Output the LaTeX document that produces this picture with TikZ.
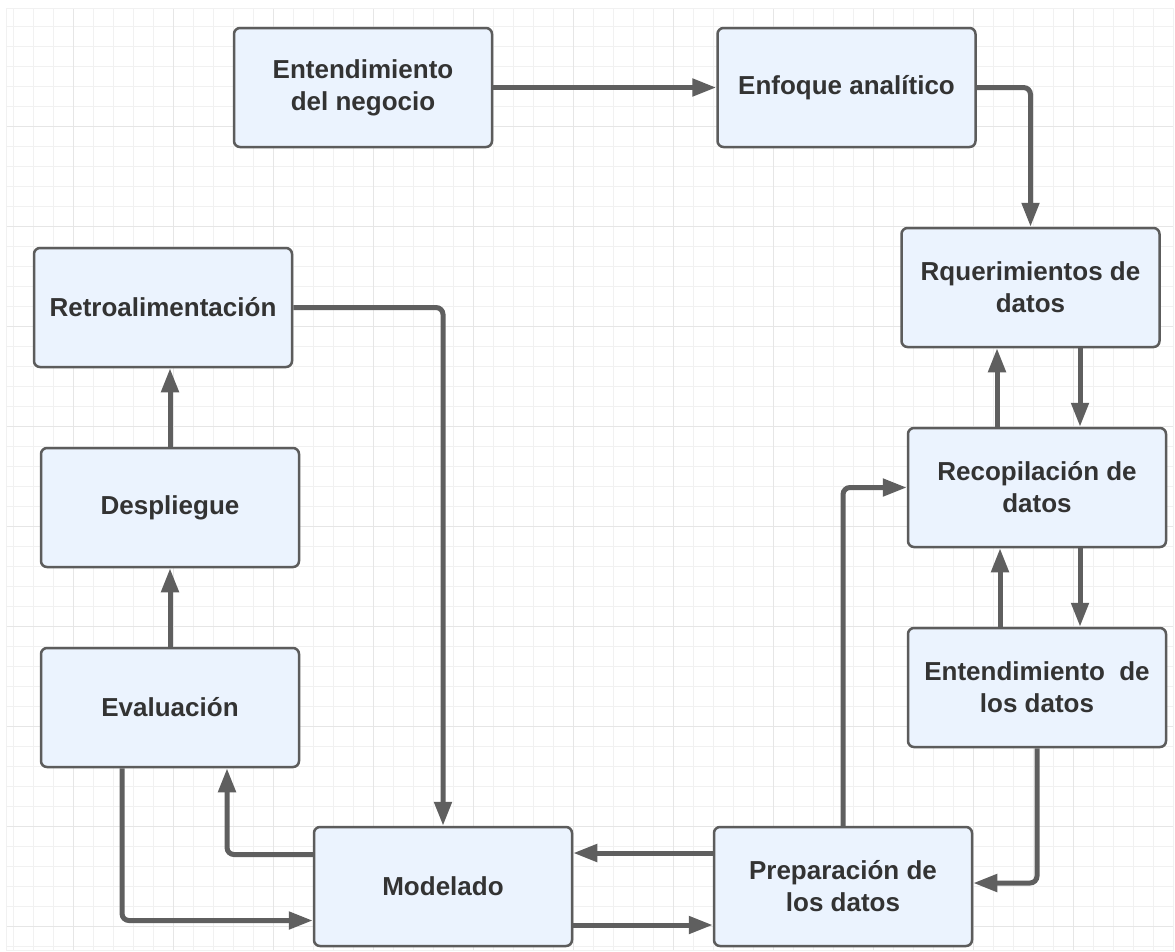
\documentclass[tikz,border=0pt]{standalone}
\usepackage{fontspec}
\setmainfont{Liberation Sans}
\usetikzlibrary{arrows.meta}

\definecolor{gridminor}{HTML}{F1F1F1}
\definecolor{gridmajor}{HTML}{E6E6E6}
\definecolor{boxfill}{HTML}{EBF3FE}
\definecolor{boxline}{HTML}{5C5C5C}
\definecolor{arrowc}{HTML}{5F5F5F}
\definecolor{txt}{HTML}{333333}

\tikzset{
  stage/.style={draw=boxline, line width=2.5pt, fill=boxfill, rounded corners=6pt,
    minimum width=258pt, minimum height=119pt, inner sep=0pt, align=center,
    text=txt, font=\fontsize{26}{32}\selectfont\bfseries},
  flow/.style={draw=arrowc, line width=5pt, rounded corners=7pt,
    -{Triangle[length=24pt,width=17pt]}},
  minorline/.style={draw=gridminor, line width=1pt},
  majorline/.style={draw=gridmajor, line width=1pt},
}

\begin{document}
\begin{tikzpicture}[x=1pt,y=-1pt]
  \useasboundingbox[fill=white] (0,0) rectangle (1175,951);

  % background grid
  \begin{scope}
    \clip (6,8) rectangle (1173,950);
    \foreach \i in {0,...,58} \draw[minorline] ({13+20*\i},8) -- ({13+20*\i},950);
    \foreach \j in {0,...,47} \draw[minorline] (6,{6.7+20*\j}) -- (1173,{6.7+20*\j});
    \foreach \i in {0,...,11} \draw[majorline] ({73+100*\i},8) -- ({73+100*\i},950);
    \foreach \j in {0,...,8} \draw[majorline] (6,{126.7+100*\j}) -- (1173,{126.7+100*\j});
  \end{scope}
  \draw[minorline] (6,8) rectangle (1173,950);

  % process stages
  \node[stage] (negocio)  at (363,87.5)    {Entendimiento\\del negocio};
  \node[stage] (enfoque)  at (846.5,87.5)  {Enfoque analítico};
  \node[stage] (requer)   at (1030.5,287.5){Rquerimientos de\\datos};
  \node[stage] (recop)    at (1037,487.5)  {Recopilación de\\datos};
  \node[stage] (entdatos) at (1037,687.5)  {Entendimiento\ \ de\\los datos};
  \node[stage] (prep)     at (843,886.5)   {Preparación de\\los datos};
  \node[stage] (modelado) at (443,886.5)   {Modelado};
  \node[stage] (eval)     at (170,707.5)   {Evaluación};
  \node[stage] (despl)    at (170,507.5)   {Despliegue};
  \node[stage] (retro)    at (163,307.5)   {Retroalimentación};

  % connectors
  \draw[flow] (negocio) -- (enfoque);
  \draw[flow] (enfoque.east) -| (requer.north);
  \draw[flow] ([xshift=49.5pt]requer.south) -- ([xshift=43pt]recop.north);
  \draw[flow] ([xshift=-40pt]recop.north) -- ([xshift=-33.5pt]requer.south);
  \draw[flow] ([xshift=43pt]recop.south) -- ([xshift=43pt]entdatos.north);
  \draw[flow] ([xshift=-37pt]entdatos.north) -- ([xshift=-37pt]recop.south);
  \draw[flow] (entdatos.south) |- ([yshift=3.5pt]prep.east);
  \draw[flow] (prep.north) |- (recop.west);
  \draw[flow] ([yshift=33.5pt]prep.west) -- ([yshift=33.5pt]modelado.east);
  \draw[flow] ([yshift=-38.5pt]modelado.east) -- ([yshift=-38.5pt]prep.west);
  \draw[flow] ([yshift=32pt]modelado.west) -| ([xshift=57pt]eval.south);
  \draw[flow] ([xshift=-48pt]eval.south) |- ([yshift=-34pt]modelado.west);
  \draw[flow] (eval) -- (despl);
  \draw[flow] (despl.north) -- (despl.north |- retro.south);
  \draw[flow] (retro.east) -| (modelado.north);
\end{tikzpicture}
\end{document}
